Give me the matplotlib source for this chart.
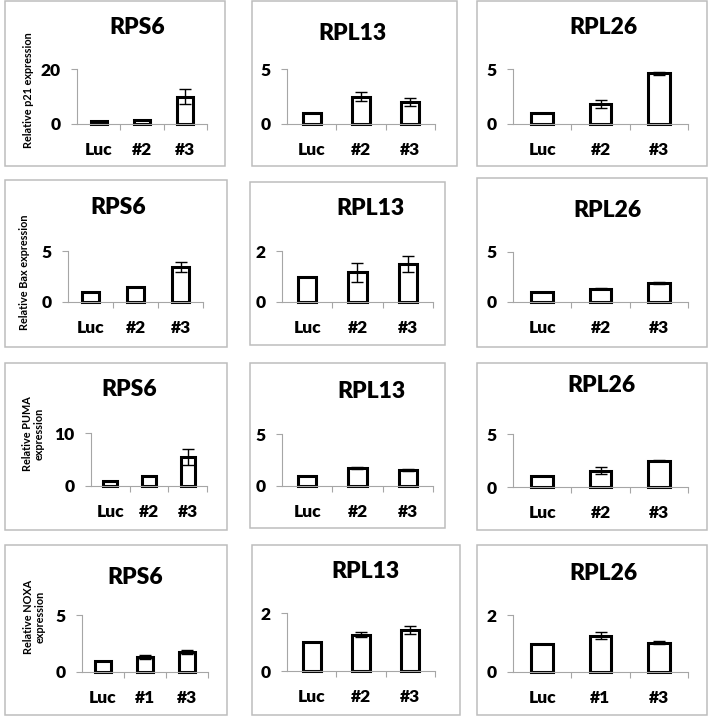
import matplotlib.pyplot as plt
from matplotlib.patches import Rectangle

W, H = 709, 716

titles = ["RPS6", "RPL13", "RPL26"]
labels_a = ["Luc", "#2", "#3"]
labels_b = ["Luc", "#1", "#3"]
ylabels = ["Relative p21 expression", "Relative Bax expression",
           "Relative PUMA\nexpression", "Relative NOXA\nexpression"]

# mean values per row (p21, Bax, PUMA, NOXA), columns RPS6 / RPL13 / RPL26
p21_mean = [[1.0, 1.6, 10.0], [1.0, 2.5, 2.0], [1.0, 1.8, 4.6]]
p21_err = [[0, 0, 2.6], [0, 0.4, 0.4], [0, 0.35, 0.1]]
bax_mean = [[1.0, 1.5, 3.45], [1.0, 1.16, 1.49], [1.0, 1.33, 1.93]]
bax_err = [[0, 0, 0.5], [0, 0.37, 0.31], [0, 0.05, 0.1]]
puma_mean = [[1.0, 1.9, 5.4], [1.0, 1.76, 1.5], [1.0, 1.55, 2.5]]
puma_err = [[0, 0, 1.5], [0, 0.1, 0.1], [0, 0.3, 0.05]]
noxa_mean = [[1.0, 1.3, 1.75], [1.0, 1.25, 1.42], [1.0, 1.27, 1.03]]
noxa_err = [[0, 0.15, 0.2], [0, 0.08, 0.13], [0, 0.12, 0.05]]

ymax = [[20, 5, 5], [5, 2, 5], [10, 5, 5], [5, 2, 2]]

means = [p21_mean, bax_mean, puma_mean, noxa_mean]
errs = [p21_err, bax_err, puma_err, noxa_err]
cats = [[labels_a, labels_a, labels_a],
        [labels_a, labels_a, labels_a],
        [labels_a, labels_a, labels_a],
        [labels_b, labels_a, labels_b]]

# layout in pixels
boxes = [[(5, 1, 225, 166), (252, 1, 457, 166), (477, 1, 707, 166)],
         [(5, 180, 227, 347), (250, 182, 445, 345), (477, 178, 707, 347)],
         [(5, 363, 227, 530), (250, 363, 445, 528), (477, 363, 707, 530)],
         [(5, 545, 227, 715), (252, 545, 460, 715), (477, 545, 707, 715)]]
axes_px = [[(77, 207, 124, 69), (287, 435, 124, 69), (513, 688, 124, 69)],
           [(68, 203, 302, 251), (282, 433, 302, 251), (513, 688, 302, 252)],
           [(91, 207, 486, 433), (282, 433, 486, 434), (513, 688, 487, 434)],
           [(82, 208, 672, 615), (287, 435, 671, 613), (513, 688, 672, 615)]]
title_px = [[(137, 28), (352, 33), (603, 27)],
            [(118, 208), (370, 209), (607, 211)],
            [(129, 390), (371, 392), (601, 386)],
            [(135, 577), (365, 572), (603, 574)]]
ylabel_px = [(28, 90), (25, 272), (33, 434), (34, 617)]

plt.rcParams['font.family'] = ['Lato', 'DejaVu Sans']

fig = plt.figure(figsize=(W / 100, H / 100), dpi=100)
fig.patch.set_facecolor('white')

axis_gray = '#a6a6a6'

for r in range(4):
    for c in range(3):
        x0, y0, x1, y1 = boxes[r][c]
        fig.add_artist(Rectangle((x0 / W, 1 - y1 / H), (x1 - x0) / W, (y1 - y0) / H,
                                 transform=fig.transFigure, fill=False,
                                 edgecolor='#bdbdbd', linewidth=1.1))

        xl, xr, yb, yt = axes_px[r][c]
        ax = fig.add_axes([xl / W, 1 - yb / H, (xr - xl) / W, (yb - yt) / H])
        ax.set_facecolor('none')
        pos = list(range(3))
        ax.bar(pos, means[r][c], width=0.37, color='white', edgecolor='black',
               linewidth=2.2, clip_on=False, zorder=2)
        for i in pos:
            if errs[r][c][i] > 0:
                ax.errorbar(i, means[r][c][i], yerr=errs[r][c][i], fmt='none',
                            ecolor='black', elinewidth=1.0, capsize=4,
                            capthick=1.0, clip_on=False, zorder=3)
        ax.set_xlim(-0.5, 2.5)
        ax.set_ylim(0, ymax[r][c])
        for s in ['top', 'right']:
            ax.spines[s].set_visible(False)
        for s in ['left', 'bottom']:
            ax.spines[s].set_color(axis_gray)
            ax.spines[s].set_linewidth(0.8)
        ax.set_yticks([0, ymax[r][c]])
        ax.set_xticks(pos)
        ax.set_xticklabels(cats[r][c])
        ax.set_xticks([0.5, 1.5, 2.5], minor=True)
        ax.tick_params(axis='x', which='major', length=0, pad=13, labelsize=12.5)
        ax.tick_params(axis='x', which='minor', length=4, color=axis_gray, width=0.8)
        ax.tick_params(axis='y', length=4, color=axis_gray, width=0.8, pad=8,
                       labelsize=12.5)
        for lab in ax.get_xticklabels() + ax.get_yticklabels():
            lab.set_fontweight('heavy')

        tx, ty = title_px[r][c]
        fig.text(tx / W, 1 - ty / H, titles[c], ha='center', va='center',
                 fontsize=16.5, fontweight='heavy')

    lx, ly = ylabel_px[r]
    fig.text(lx / W, 1 - ly / H, ylabels[r], ha='center', va='center',
             rotation=90, fontsize=7.8, fontweight='bold', linespacing=1.1)

fig.savefig('out.png', dpi=100)
